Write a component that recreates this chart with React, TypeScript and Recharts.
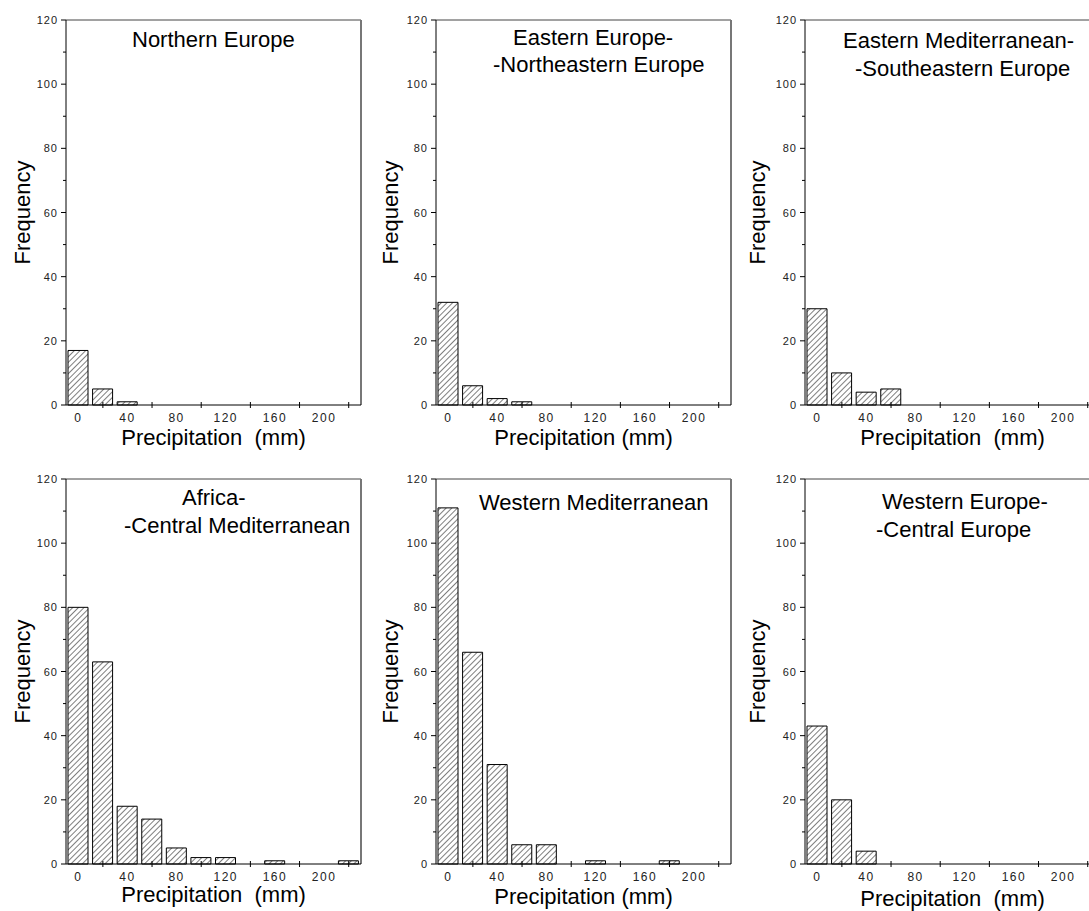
import React from 'react';
import { BarChart, Bar, XAxis, YAxis, ReferenceLine } from 'recharts';

// precipitation bins (mm), bar centres
const BINS = [0, 20, 40, 60, 80, 100, 120, 140, 160, 180, 200, 220];
const X_TICK_MARKS = [20, 60, 100, 140, 180, 220];
const X_TICK_LABELS = [0, 40, 80, 120, 160, 200];
const Y_TICKS = [0, 10, 20, 30, 40, 50, 60, 70, 80, 90, 100, 110, 120];
const Y_TICK_LABELS = [0, 20, 40, 60, 80, 100, 120];

// frequencies per region
const NORTHERN_EUROPE = [17, 5, 1, 0, 0, 0, 0, 0, 0, 0, 0, 0];
const EASTERN_EUROPE = [32, 6, 2, 1, 0, 0, 0, 0, 0, 0, 0, 0];
const EASTERN_MED = [30, 10, 4, 5, 0, 0, 0, 0, 0, 0, 0, 0];
const AFRICA_CENTRAL_MED = [80, 63, 18, 14, 5, 2, 2, 0, 1, 0, 0, 1];
const WESTERN_MED = [111, 66, 31, 6, 6, 0, 1, 0, 0, 1, 0, 0];
const WESTERN_CENTRAL_EUROPE = [43, 20, 4, 0, 0, 0, 0, 0, 0, 0, 0, 0];

const TITLES = [
  ['Northern Europe'],
  ['Eastern Europe-', '-Northeastern Europe'],
  ['Eastern Mediterranean-', '-Southeastern Europe'],
  ['Africa-', '-Central Mediterranean'],
  ['Western Mediterranean'],
  ['Western Europe-', '-Central Europe'],
];
const X_TITLES = [
  'Precipitation  (mm)',
  'Precipitation (mm)',
  'Precipitation  (mm)',
  'Precipitation  (mm)',
  'Precipitation (mm)',
  'Precipitation  (mm)',
];
const SERIES = [
  NORTHERN_EUROPE,
  EASTERN_EUROPE,
  EASTERN_MED,
  AFRICA_CENTRAL_MED,
  WESTERN_MED,
  WESTERN_CENTRAL_EUROPE,
];

// layout (plot box positions, text offsets)
const COLS = [66, 436, 805];
const ROWS = [20, 479];
const BOX_W = 295;
const BOX_H = 385;
const Y_AXIS_W = 60;
const TITLE_POS = [
  [[66, 27]],
  [[77, 25], [57, 52]],
  [[38, 28], [50, 56]],
  [[116, 26], [58, 54]],
  [[43, 31]],
  [[77, 30], [71, 58]],
];
const FREQ_DX = [-44, -46, -48, -44, -46, -48];
const XTITLE_DY = [40, 40, 40, 38, 40, 42];

const FONT = '"Liberation Sans", Arial, sans-serif';

const XTick = (props: any) => {
  const { x, y, payload } = props;
  const v = payload.value;
  return (
    <g>
      {X_TICK_MARKS.includes(v) && <line x1={x} x2={x} y1={y - 3} y2={y + 3} stroke="#000" />}
      {X_TICK_LABELS.includes(v) && (
        <text x={x} y={y + 17} textAnchor="middle" fontSize={12} letterSpacing={1.5} fill="#222" fontFamily={FONT}>
          {v}
        </text>
      )}
    </g>
  );
};

const YTick = (props: any) => {
  const { x, y, payload } = props;
  const v = payload.value;
  const major = Y_TICK_LABELS.includes(v);
  return (
    <g>
      <line x1={x - (major ? 5 : 3)} x2={x} y1={y} y2={y} stroke="#000" />
      {major && (
        <text x={x - 8} y={y + 4} textAnchor="end" fontSize={11} letterSpacing={1} fill="#222" fontFamily={FONT}>
          {v}
        </text>
      )}
    </g>
  );
};

const Panel = ({ idx }: { idx: number }) => {
  const data = BINS.map((b, i) => ({ bin: b, value: SERIES[idx][i] }));
  const col = idx % 3;
  const row = Math.floor(idx / 3);
  const left = COLS[col] - Y_AXIS_W - 6;
  const top = ROWS[row] - 20;
  const id = `hatch-${idx}`;
  return (
    <div style={{ position: 'absolute', left, top }}>
      <BarChart
        width={Y_AXIS_W + 6 + BOX_W + 12}
        height={20 + BOX_H + 30}
        data={data}
        margin={{ top: 20, right: 12, bottom: 0, left: 6 }}
      >
        <defs>
          <pattern id={id} patternUnits="userSpaceOnUse" width={4} height={4} patternTransform="rotate(45)">
            <rect width={4} height={4} fill="#fff" />
            <line x1={0} y1={0} x2={0} y2={4} stroke="#000" strokeWidth={1} />
          </pattern>
        </defs>
        <XAxis
          type="number"
          dataKey="bin"
          domain={[-10, 230]}
          ticks={BINS}
          interval={0}
          tick={<XTick />}
          tickSize={0}
          tickMargin={0}
          height={30}
          axisLine={{ stroke: '#000' }}
          allowDataOverflow
        />
        <YAxis
          type="number"
          domain={[0, 120]}
          ticks={Y_TICKS}
          interval={0}
          tick={<YTick />}
          tickSize={0}
          tickMargin={0}
          width={Y_AXIS_W}
          axisLine={{ stroke: '#000' }}
        />
        <ReferenceLine y={120} stroke="#444" ifOverflow="visible" />
        <ReferenceLine x={230} stroke="#777" strokeWidth={2} ifOverflow="visible" />
        <Bar
          dataKey="value"
          barSize={20}
          fill={`url(#${id})`}
          stroke="#000"
          strokeWidth={1}
          isAnimationActive={false}
        />
      </BarChart>
    </div>
  );
};

const Labels = () => (
  <svg
    width={1089}
    height={911}
    style={{ position: 'absolute', left: 0, top: 0, pointerEvents: 'none' }}
    fontFamily={FONT}
  >
    {TITLES.map((lines, idx) => {
      const bx = COLS[idx % 3];
      const by = ROWS[Math.floor(idx / 3)];
      return (
        <g key={idx}>
          {lines.map((t, j) => (
            <text key={j} x={bx + TITLE_POS[idx][j][0]} y={by + TITLE_POS[idx][j][1]} fontSize={22} fill="#000">
              {t}
            </text>
          ))}
          <text
            x={bx + BOX_W / 2}
            y={by + BOX_H + XTITLE_DY[idx]}
            fontSize={22}
            textAnchor="middle"
            fill="#000"
            style={{ whiteSpace: 'pre' }}
          >
            {X_TITLES[idx]}
          </text>
          <text
            x={bx + FREQ_DX[idx]}
            y={by + BOX_H / 2}
            fontSize={22}
            textAnchor="middle"
            dominantBaseline="central"
            fill="#000"
            transform={`rotate(-90 ${bx + FREQ_DX[idx]} ${by + BOX_H / 2})`}
          >
            Frequency
          </text>
        </g>
      );
    })}
  </svg>
);

export default function App() {
  return (
    <div
      style={{
        position: 'absolute',
        left: 0,
        top: 0,
        width: 1089,
        height: 911,
        overflow: 'hidden',
        background: '#fff',
      }}
    >
      {[0, 1, 2, 3, 4, 5].map((i) => (
        <Panel key={i} idx={i} />
      ))}
      <Labels />
    </div>
  );
}
